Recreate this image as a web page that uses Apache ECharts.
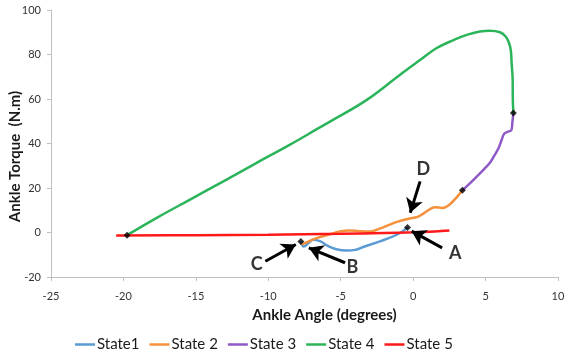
<!DOCTYPE html>
<html>
<head>
<meta charset="utf-8">
<script src="https://cdn.jsdelivr.net/npm/echarts@6/dist/echarts.min.js"></script>
<style>
html,body{margin:0;padding:0;background:#fff;}
#chart{width:565px;height:358px;}
</style>
</head>
<body>
<div id="chart"></div>
<script>
// ---- Data (ankle angle in degrees, ankle torque in N.m) ----
var seriesNames = ['State1', 'State 2', 'State 3', 'State 4', 'State 5'];

var state1 = [[-7.75,-4.0],[-7.55,-6.3],[-7.2,-4.6],[-6.9,-3.3],[-6.4,-4.0],[-5.9,-6.0],[-5.3,-7.5],[-4.6,-8.1],[-4.0,-7.8],[-3.4,-6.4],[-2.3,-4.0],[-1.1,-0.9],[-0.39,2.2]];

var state2 = [[-7.7,-5.4],[-7.3,-4.3],[-6.9,-3.1],[-6.3,-1.8],[-5.7,-0.7],[-5.0,0.6],[-4.4,0.9],[-3.7,0.6],[-3.0,0.4],[-2.4,1.5],[-1.7,3.3],[-1.0,5.0],[-0.3,6.2],[0.3,7.0],[0.7,8.5],[1.2,10.6],[1.5,11.4],[2.0,11.0],[2.5,12.5],[3.0,15.8],[3.4,19.0]];

var state3 = [[3.4,19.0],[3.9,22.0],[4.4,25.2],[4.9,28.5],[5.3,31.3],[5.6,34.5],[5.9,38.0],[6.1,41.5],[6.3,44.5],[6.6,45.4],[6.78,46.0],[6.85,49.5],[6.92,53.7]];

var state4 = [[6.92,53.7],[6.88,60.0],[6.87,68.6],[6.8,76.0],[6.74,82.0],[6.6,85.5],[6.4,88.0],[6.0,90.0],[5.3,90.7],[4.6,90.3],[3.7,88.8],[2.8,86.5],[1.6,82.8],[0.5,77.6],[-0.9,70.9],[-3.2,59.6],[-5.5,50.7],[-6.5,47.0],[-8.5,39.5],[-10.8,31.3],[-13.1,23.0],[-15.4,14.8],[-17.7,6.6],[-19.75,-1.2]];

var state5 = [[-20.5,-1.3],[-15,-1.2],[-10,-1.0],[-5,-0.6],[-2,-0.2],[0,0.1],[1.5,0.5],[2.5,0.9]];

var transitionPoints = [[-19.75,-1.2],[6.92,53.7],[3.4,19.0],[-0.39,2.2],[-7.75,-4.0]];

// annotation arrows: [label, tail, tip]
var arrowLabels = ['A', 'B', 'C', 'D'];
var arrowTails = [[2.0,-6.9],[-4.7,-13.6],[-10.2,-12.9],[0.48,23.0]];
var arrowTips = [[-0.1,0.6],[-7.2,-6.9],[-8.1,-5.4],[-0.2,8.9]];
var labelPositions = [[2.9,-9.1],[-4.2,-15.8],[-10.8,-14.3],[0.7,28.3]];

var xTicks = {min: -25, max: 10, interval: 5};
var yTicks = {min: -20, max: 100, interval: 20};

var colors = ['#5B9BD5', '#F5913A', '#8E5AC8', '#2CB45A', '#FF1A1A'];

// ---- Chart ----
var chart = echarts.init(document.getElementById('chart'), null, {renderer: 'canvas'});
var font = 'Lato, "Open Sans", sans-serif';

var lineSeries = [state1, state2, state3, state4, state5].map(function (d, i) {
  return {
    name: seriesNames[i],
    type: 'line',
    data: d,
    symbol: 'none',
    smooth: 0.4,
    lineStyle: {width: 2.5, color: colors[i]},
    itemStyle: {color: colors[i]},
    z: i === 4 ? 3 : 2
  };
});

var arrowData = arrowLabels.map(function (l, i) {
  return [{coord: arrowTails[i]}, {coord: arrowTips[i]}];
});

var labelData = arrowLabels.map(function (l, i) {
  return {name: l, value: labelPositions[i]};
});

var option = {
  animation: false,
  color: colors,
  grid: {left: 51, right: 7, top: 10, bottom: 81, containLabel: false, outerBoundsMode: 'none'},
  legend: {
    data: seriesNames,
    bottom: 1,
    left: 70,
    icon: 'rect',
    itemWidth: 20,
    itemHeight: 2.5,
    itemGap: 10,
    textStyle: {fontFamily: font, fontSize: 15, color: '#1a1a1a', padding: [0,0,0,-3]}
  },
  xAxis: {
    type: 'value',
    min: xTicks.min, max: xTicks.max, interval: xTicks.interval,
    name: 'Ankle Angle (degrees)',
    nameLocation: 'middle',
    nameGap: 31,
    nameMoveOverlap: false,
    nameTextStyle: {fontFamily: font, fontSize: 15, fontWeight: 'bold', color: '#1a1a1a', padding: [0,0,0,40]},
    axisLine: {onZero: false, lineStyle: {color: '#bfbfbf', width: 1}},
    axisTick: {show: true, inside: false, length: 4, lineStyle: {color: '#bfbfbf'}},
    axisLabel: {fontFamily: font, fontSize: 11, color: '#333', margin: 14},
    splitLine: {show: false}
  },
  yAxis: {
    type: 'value',
    min: yTicks.min, max: yTicks.max, interval: yTicks.interval,
    name: 'Ankle Torque  (N.m)',
    nameLocation: 'middle',
    nameGap: 28,
    nameMoveOverlap: false,
    nameTextStyle: {fontFamily: font, fontSize: 15, fontWeight: 'bold', color: '#1a1a1a', padding: [0,26,0,0]},
    axisLine: {show: true, onZero: false, lineStyle: {color: '#bfbfbf', width: 1}},
    axisTick: {show: true, inside: false, length: 4, lineStyle: {color: '#bfbfbf'}},
    axisLabel: {fontFamily: font, fontSize: 11, color: '#333', margin: 10},
    splitLine: {show: false}
  },
  series: lineSeries.concat([
    {
      name: 'points',
      type: 'scatter',
      data: transitionPoints,
      symbol: 'diamond',
      symbolSize: 7,
      itemStyle: {color: '#000'},
      z: 5
    },
    {
      name: 'labels',
      type: 'scatter',
      data: labelData,
      symbolSize: 0,
      label: {
        show: true,
        position: 'inside',
        formatter: '{b}',
        fontFamily: font,
        fontSize: 18,
        fontWeight: 'bold',
        color: '#000'
      },
      markLine: {
        silent: true,
        symbol: ['none', 'arrow'],
        symbolSize: [13, 14],
        label: {show: false},
        lineStyle: {color: '#000', width: 3, type: 'solid'},
        data: arrowData
      },
      z: 6
    }
  ])
};
chart.setOption(option);
</script>
</body>
</html>
